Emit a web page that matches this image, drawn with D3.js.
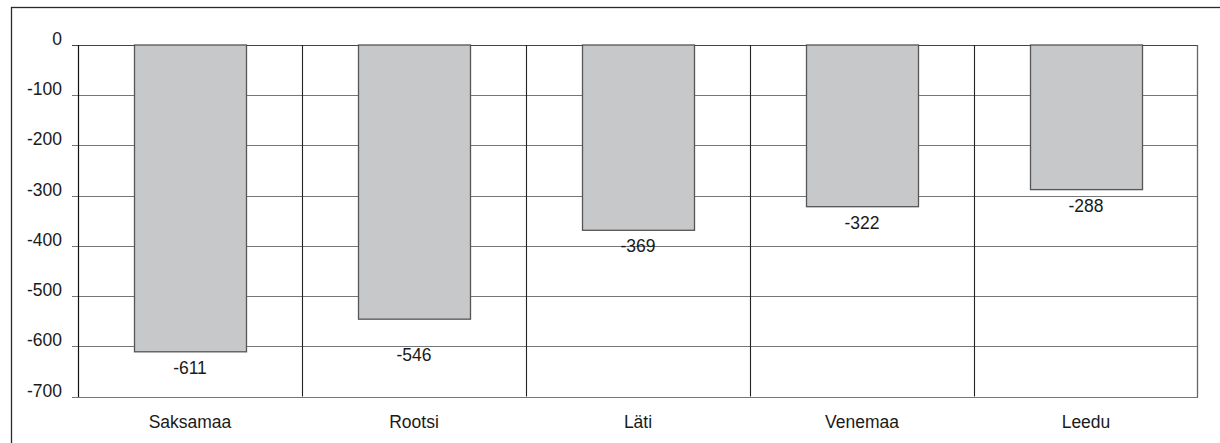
<!DOCTYPE html>
<html>
<head>
<meta charset="utf-8">
<script src="https://cdn.jsdelivr.net/npm/d3@7"></script>
<style>
  html, body { margin: 0; padding: 0; background: #fff; }
  svg { display: block; }
  text { font-family: "Liberation Sans", Arial, sans-serif; fill: #1a1a1a; }
</style>
</head>
<body>
<svg id="chart" width="1220" height="443"></svg>
<script>
const categories = ["Saksamaa", "Rootsi", "Läti", "Venemaa", "Leedu"];
const values = [-611, -546, -369, -322, -288];
const tickValues = [0, -100, -200, -300, -400, -500, -600, -700];

const W = 1220, H = 443;
const svg = d3.select("#chart");

// outer frame
svg.append("rect")
  .attr("x", 11.5).attr("y", 7.5)
  .attr("width", W).attr("height", H)
  .attr("fill", "none").attr("stroke", "#2b2b2b").attr("stroke-width", 1.3);

const x = d3.scaleBand().domain(categories).range([78, 1198]).paddingInner(0).paddingOuter(0);
const y = d3.scaleLinear().domain([0, -700]).range([45, 396.5]);

const g = svg.append("g");

// horizontal gridlines
g.selectAll("line.hgrid").data(tickValues).join("line")
  .attr("class", "hgrid")
  .attr("x1", 72).attr("x2", 1198)
  .attr("y1", d => Math.round(y(d)) + 0.5).attr("y2", d => Math.round(y(d)) + 0.5)
  .attr("stroke", d => d === 0 ? "#444" : "#777").attr("stroke-width", 1.2);

// vertical category dividers
const bounds = categories.slice(1).map(c => x(c));
g.selectAll("line.vgrid").data(bounds).join("line")
  .attr("class", "vgrid")
  .attr("x1", d => Math.round(d) + 0.5).attr("x2", d => Math.round(d) + 0.5)
  .attr("y1", y(0)).attr("y2", y(-700))
  .attr("stroke", "#222").attr("stroke-width", 1.1);

// right border of plot
g.append("line")
  .attr("x1", 1197.5).attr("x2", 1197.5).attr("y1", y(0)).attr("y2", y(-700) + 0.5)
  .attr("stroke", "#666").attr("stroke-width", 1.3);

// left axis line
g.append("line")
  .attr("x1", 78.5).attr("x2", 78.5).attr("y1", y(0)).attr("y2", y(-700) + 0.5)
  .attr("stroke", "#111").attr("stroke-width", 1.2);

// y tick labels
g.selectAll("text.ytick").data(tickValues).join("text")
  .attr("class", "ytick")
  .attr("x", 62).attr("y", d => y(d))
  .attr("text-anchor", "end")
  .attr("font-size", 17.5)
  .text(d => d3.format("d")(d).replace("−", "-"));

// bars
const bw = x.bandwidth() / 2;
g.selectAll("rect.bar").data(values).join("rect")
  .attr("class", "bar")
  .attr("x", (d, i) => x(categories[i]) + x.bandwidth() / 2 - bw / 2 + 0.5)
  .attr("y", y(0))
  .attr("width", bw)
  .attr("height", d => y(d) - y(0))
  .attr("fill", "#c7c8ca")
  .attr("stroke", "#555")
  .attr("stroke-width", 1.3);

// value labels
const labelDy = i => (i === 1 ? 42 : 22);
g.selectAll("text.val").data(values).join("text")
  .attr("class", "val")
  .attr("x", (d, i) => x(categories[i]) + x.bandwidth() / 2)
  .attr("y", (d, i) => y(d) + labelDy(i))
  .attr("text-anchor", "middle")
  .attr("font-size", 17.5)
  .text(d => String(d));

// category labels
g.selectAll("text.cat").data(categories).join("text")
  .attr("class", "cat")
  .attr("x", d => x(d) + x.bandwidth() / 2)
  .attr("y", 428)
  .attr("text-anchor", "middle")
  .attr("font-size", 17.5)
  .text(d => d);
</script>
</body>
</html>
